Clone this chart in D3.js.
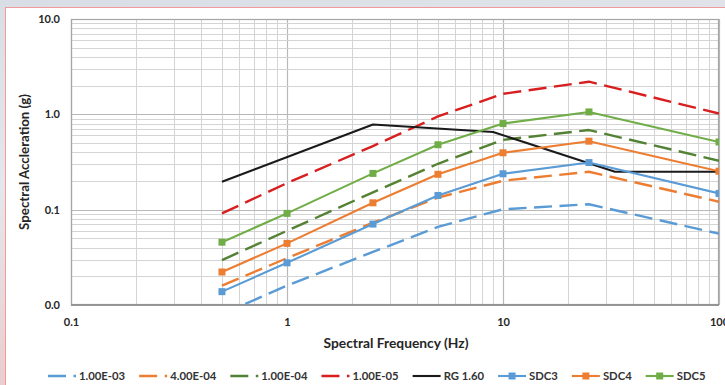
<!DOCTYPE html>
<html><head><meta charset="utf-8">
<script src="https://cdn.jsdelivr.net/npm/d3@7"></script>
<style>
html,body{margin:0;padding:0;overflow:hidden;background:#fff;}
text{font-family:Lato,"Liberation Sans",Arial,sans-serif;}
</style></head><body>
<svg id="chart" width="725" height="385"></svg>
<script>
// ---- data ----
const freqs = [0.5, 1, 2.5, 5, 10, 25, 100];
const uhs1e03 = [0.008, 0.016, 0.036, 0.066, 0.101, 0.114, 0.056];
const uhs4e04 = [0.016, 0.031, 0.073, 0.134, 0.201, 0.25, 0.121];
const uhs1e04 = [0.0296, 0.060, 0.152, 0.303, 0.54, 0.684, 0.326];
const uhs1e05 = [0.0914, 0.19, 0.465, 0.95, 1.64, 2.2, 1.02];
const sdc3 = [0.0138, 0.0277, 0.0706, 0.141, 0.238, 0.312, 0.148];
const sdc4 = [0.0222, 0.0443, 0.118, 0.235, 0.395, 0.523, 0.253];
const sdc5 = [0.0456, 0.0914, 0.24, 0.48, 0.80, 1.06, 0.513];
const rgFreqs = [0.5, 2.5, 9, 33, 100];
const rgValues = [0.196, 0.7825, 0.6525, 0.25, 0.25];
const seriesNames = ["1.00E-03", "4.00E-04", "1.00E-04", "1.00E-05", "RG 1.60", "SDC3", "SDC4", "SDC5"];
const xTickValues = [0.1, 1, 10, 100];
const xTickLabels = ["0.1", "1", "10", "100"];
const yTickValues = [0.01, 0.1, 1, 10];
const yTickLabels = ["0.0", "0.1", "1.0", "10.0"];
const xTitle = "Spectral Frequency (Hz)";
const yTitle = "Spectral Accleration (g)";

// ---- styles ----
const styles = [
  {color:"#5b9bd5", dash:true,  marker:false},
  {color:"#ed7d31", dash:true,  marker:false},
  {color:"#548235", dash:true,  marker:false},
  {color:"#d81e1e", dash:true,  marker:false},
  {color:"#1a1a1a", dash:false, marker:false},
  {color:"#5b9bd5", dash:false, marker:true},
  {color:"#ed7d31", dash:false, marker:true},
  {color:"#70ad47", dash:false, marker:true}
];
const seriesData = [
  [freqs, uhs1e03], [freqs, uhs4e04], [freqs, uhs1e04], [freqs, uhs1e05],
  [rgFreqs, rgValues], [freqs, sdc3], [freqs, sdc4], [freqs, sdc5]
];
const series = seriesNames.map((n, i) => ({
  name: n, ...styles[i],
  pts: seriesData[i][0].map((f, j) => ({f: f, v: seriesData[i][1][j]}))
}));

const W = 725, H = 385;
const m = {left: 71, right: 6, top: 19, bottom: 80};
const x = d3.scaleLog().domain([0.1, 100]).range([m.left, W - m.right]);
const y = d3.scaleLog().domain([0.01, 10]).range([H - m.bottom, m.top]);

const svg = d3.select("#chart");
const defs = svg.append("defs");
const grad = defs.append("linearGradient").attr("id", "bg").attr("x1", 0).attr("y1", 0).attr("x2", 0.3).attr("y2", 1);
grad.append("stop").attr("offset", "0%").attr("stop-color", "#d9dee6");
grad.append("stop").attr("offset", "45%").attr("stop-color", "#e4e7ec");
grad.append("stop").attr("offset", "100%").attr("stop-color", "#ecc9c9");
defs.append("clipPath").attr("id", "clip").append("rect")
  .attr("x", m.left).attr("y", m.top).attr("width", W - m.left - m.right).attr("height", H - m.top - m.bottom);

svg.append("rect").attr("width", W).attr("height", H).attr("fill", "url(#bg)");
svg.append("rect").attr("x", 5.5).attr("y", 7.5).attr("width", W + 10).attr("height", H + 10)
  .attr("fill", "#fff").attr("stroke", "#f09a9a").attr("stroke-width", 1);

// ---- grid ----
const isMajor = v => Math.abs(Math.log10(v) - Math.round(Math.log10(v))) < 1e-9;
const grid = svg.append("g");
grid.selectAll("line.gx").data(x.ticks()).join("line")
  .attr("x1", d => Math.round(x(d)) + 0.5).attr("x2", d => Math.round(x(d)) + 0.5)
  .attr("y1", m.top).attr("y2", H - m.bottom)
  .attr("stroke", d => isMajor(d) ? "#b8b8b8" : "#d4d4d4").attr("stroke-width", d => isMajor(d) ? 1.2 : 1);
grid.selectAll("line.gy").data(y.ticks()).join("line")
  .attr("y1", d => Math.round(y(d)) + 0.5).attr("y2", d => Math.round(y(d)) + 0.5)
  .attr("x1", m.left).attr("x2", W - m.right)
  .attr("stroke", d => isMajor(d) ? "#b8b8b8" : "#d4d4d4").attr("stroke-width", d => isMajor(d) ? 1.2 : 1);
svg.append("rect").attr("x", m.left + 0.5).attr("y", m.top + 0.5)
  .attr("width", W - m.left - m.right - 1).attr("height", H - m.top - m.bottom - 1)
  .attr("fill", "none").attr("stroke", "#a6a6a6").attr("stroke-width", 1.2);
svg.append("line").attr("x1", m.left).attr("x2", W - m.right)
  .attr("y1", H - m.bottom).attr("y2", H - m.bottom).attr("stroke", "#8c8c8c").attr("stroke-width", 1.5);

// ---- axes labels ----
const xAxis = d3.axisBottom(x).tickValues(xTickValues).tickSize(0).tickPadding(0)
  .tickFormat((d, i) => xTickLabels[i]);
const gx = svg.append("g").attr("transform", `translate(0,${H - m.bottom + 13})`).call(xAxis);
gx.select(".domain").remove();
gx.selectAll("text").attr("font-family", "Lato, 'Liberation Sans', Arial, sans-serif")
  .attr("font-size", 11).attr("font-weight", "bold").attr("fill", "#262626");

const yAxis = d3.axisLeft(y).tickValues(yTickValues).tickSize(0).tickPadding(0)
  .tickFormat((d, i) => yTickLabels[i]);
const gy = svg.append("g").attr("transform", `translate(${m.left - 11},0)`).call(yAxis);
gy.select(".domain").remove();
gy.selectAll("text").attr("font-family", "Lato, 'Liberation Sans', Arial, sans-serif")
  .attr("font-size", 11).attr("font-weight", "bold").attr("fill", "#262626");

svg.append("text").attr("x", 396).attr("y", 348).attr("text-anchor", "middle")
  .attr("font-size", 13.8).attr("font-weight", "bold").attr("fill", "#262626").text(xTitle);
svg.append("text").attr("transform", `translate(29,${(m.top + H - m.bottom) / 2}) rotate(-90)`)
  .attr("text-anchor", "middle").attr("font-size", 13.3).attr("font-weight", "bold").attr("fill", "#262626").text(yTitle);

// ---- series ----
const line = d3.line().x(d => x(d.f)).y(d => y(d.v));
const plot = svg.append("g").attr("clip-path", "url(#clip)");
const DASH = "18 7.5";
series.forEach(s => {
  plot.append("path").datum(s.pts).attr("d", line).attr("fill", "none")
    .attr("stroke", s.color).attr("stroke-width", s.dash ? 2.4 : 2.1)
    .attr("stroke-dasharray", s.dash ? DASH : null).attr("stroke-linejoin", "round");
  if (s.marker) {
    plot.selectAll(null).data(s.pts).join("rect")
      .attr("x", d => x(d.f) - 3.5).attr("y", d => y(d.v) - 3.5)
      .attr("width", 7).attr("height", 7).attr("fill", s.color);
  }
});

// ---- legend ----
const leg = svg.append("g");
let cx = 0;
series.forEach(s => {
  const g = leg.append("g").attr("transform", `translate(${cx},0)`);
  g.append("line").attr("x1", 0).attr("x2", 28).attr("y1", 0).attr("y2", 0)
    .attr("stroke", s.color).attr("stroke-width", s.dash ? 2.4 : 2.1)
    .attr("stroke-dasharray", s.dash ? DASH : null);
  if (s.marker) g.append("rect").attr("x", 10.5).attr("y", -3.5).attr("width", 7).attr("height", 7).attr("fill", s.color);
  const t = g.append("text").attr("x", 31).attr("y", 4).attr("font-size", 11.3).attr("font-weight", "bold")
    .attr("fill", "#333").text(s.name);
  cx += 31 + t.node().getComputedTextLength() + 14;
});
const legW = cx - 14;
leg.attr("transform", `translate(${Math.round(377 - legW / 2)},376)`);
</script>
</body></html>
